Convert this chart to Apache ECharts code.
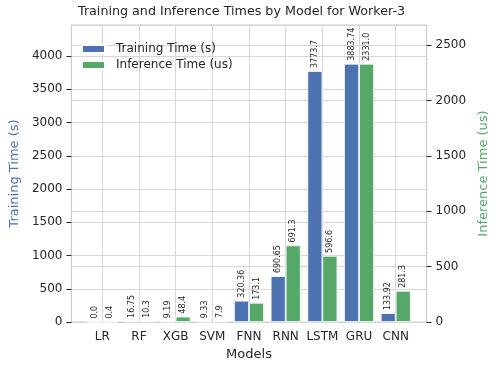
<!DOCTYPE html>
<html><head><meta charset="utf-8">
<script src="https://cdn.jsdelivr.net/npm/echarts@6/dist/echarts.min.js"></script>
<style>html,body{margin:0;padding:0;background:#fff}#c{width:498px;height:370px}</style>
</head><body><div id="c"></div>
<script>
const categories = ['LR', 'RF', 'XGB', 'SVM', 'FNN', 'RNN', 'LSTM', 'GRU', 'CNN'];
const trainingTime = [0.0, 16.75, 9.19, 9.33, 320.36, 690.65, 3773.7, 3883.74, 133.92];
const inferenceTime = [0.4, 10.3, 48.4, 7.9, 173.1, 691.3, 596.6, 2331.0, 281.3];
const leftTicks = [0, 500, 1000, 1500, 2000, 2500, 3000, 3500, 4000];
const rightTicks = [0, 500, 1000, 1500, 2000, 2500];

const FONT = 'DejaVu Sans';
const TXT = '#262626';
const GRID = '#d6d6d6';
const BLUE = '#4C72B0';
const GREEN = '#55A868';
const fmt = v => Number.isInteger(v) ? v.toFixed(1) : String(v);
const idx = categories.map((c, i) => i);

const chart = echarts.init(document.getElementById('c'), null, { renderer: 'canvas' });
const barLabel = {
  show: true, position: 'top', rotate: 90, align: 'left', verticalAlign: 'middle',
  distance: 3, fontSize: 8, fontFamily: FONT, color: TXT,
  formatter: p => fmt(p.value[1])
};
chart.setOption({
  animation: false,
  backgroundColor: '#fff',
  textStyle: { fontFamily: FONT },
  title: {
    text: 'Training and Inference Times by Model for Worker-3',
    left: 78, top: 5, padding: 0,
    textStyle: { fontFamily: FONT, fontSize: 12.7, fontWeight: 'normal', color: TXT }
  },
  legend: {
    left: 81, top: 43, padding: 0, orient: 'vertical', itemWidth: 23, itemHeight: 8, itemGap: 4,
    icon: 'rect',
    textStyle: { fontFamily: FONT, fontSize: 12, color: TXT, padding: [0, 0, 0, 6] },
    data: ['Training Time (s)', 'Inference Time (us)']
  },
  grid: { left: 67, right: 67, top: 25, bottom: 48, show: true, borderColor: '#cccccc', borderWidth: 1.25, backgroundColor: 'transparent' },
  xAxis: {
    type: 'value', min: -0.84, max: 8.84,
    name: 'Models', nameLocation: 'middle', nameGap: 24,
    nameTextStyle: { fontFamily: FONT, fontSize: 13, color: TXT },
    axisLine: { show: false, onZero: false },
    axisTick: { show: false, customValues: idx },
    axisLabel: { customValues: idx, formatter: v => categories[Math.round(v)], fontFamily: FONT, fontSize: 12, color: TXT, margin: 9 },
    splitLine: { show: true, lineStyle: { color: GRID, width: 1 } }
  },
  yAxis: [
    {
      type: 'value', min: 0, max: Math.max(...trainingTime) * 1.15, interval: 500, position: 'left',
      name: 'Training Time (s)', nameLocation: 'middle', nameGap: 46, nameRotate: 90,
      nameTextStyle: { fontFamily: FONT, fontSize: 13, color: BLUE },
      axisLine: { show: false, onZero: false },
      axisTick: { show: true, length: 5, lineStyle: { color: TXT, width: 1 } },
      axisLabel: { fontFamily: FONT, fontSize: 12, color: TXT, margin: 9, showMaxLabel: false,
        formatter: v => leftTicks.includes(v) ? String(v) : '' },
      splitLine: { show: true, lineStyle: { color: GRID, width: 1 } }
    },
    {
      type: 'value', min: 0, max: Math.max(...inferenceTime) * 1.15, interval: 500, position: 'right',
      name: 'Inference Time (us)', nameLocation: 'middle', nameGap: 46, nameRotate: 90,
      nameTextStyle: { fontFamily: FONT, fontSize: 13, color: GREEN },
      axisLine: { show: false, onZero: false },
      axisTick: { show: true, length: 5, lineStyle: { color: TXT, width: 1 } },
      axisLabel: { fontFamily: FONT, fontSize: 12, color: TXT, margin: 9, showMaxLabel: false,
        formatter: v => rightTicks.includes(v) ? String(v) : '' },
      splitLine: { show: true, lineStyle: { color: GRID, width: 1 } }
    }
  ],
  series: [
    {
      name: 'Training Time (s)', type: 'bar', xAxisIndex: 0, yAxisIndex: 0,
      barWidth: 15, barGap: '0%',
      itemStyle: { color: BLUE, borderColor: '#fff', borderWidth: 0.8 },
      label: barLabel,
      data: trainingTime.map((v, i) => [i, v])
    },
    {
      name: 'Inference Time (us)', type: 'bar', xAxisIndex: 0, yAxisIndex: 1,
      barWidth: 15, barGap: '0%',
      itemStyle: { color: GREEN, borderColor: '#fff', borderWidth: 0.8 },
      label: barLabel,
      data: inferenceTime.map((v, i) => [i, v])
    }
  ]
});
</script>
</body></html>
